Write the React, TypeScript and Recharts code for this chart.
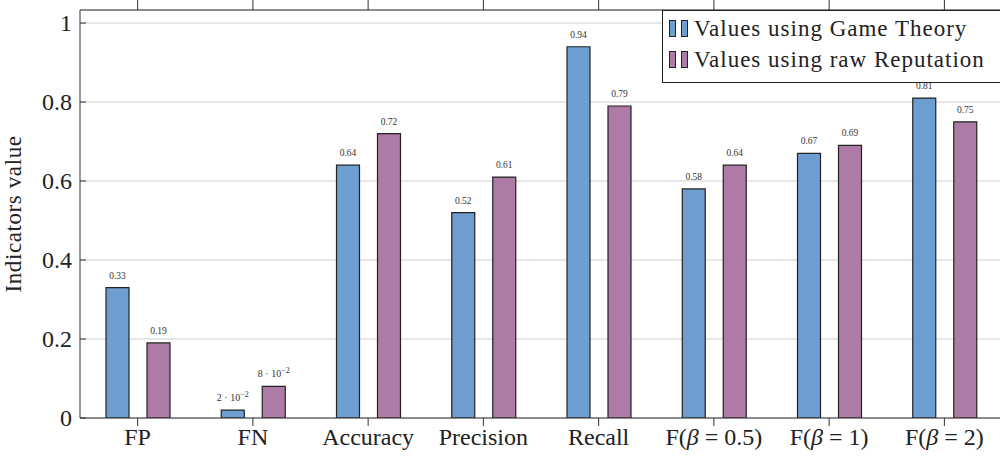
import { BarChart, Bar, XAxis, YAxis, CartesianGrid, LabelList } from 'recharts'

const categories = ['FP', 'FN', 'Accuracy', 'Precision', 'Recall', 'F(β = 0.5)', 'F(β = 1)', 'F(β = 2)']
const gameTheory = [0.33, 0.02, 0.64, 0.52, 0.94, 0.58, 0.67, 0.81]
const rawReputation = [0.19, 0.08, 0.72, 0.61, 0.79, 0.64, 0.69, 0.75]
const yTicks = [0, 0.2, 0.4, 0.6, 0.8, 1]
const seriesNames = ['Values using Game Theory', 'Values using raw Reputation']

const BLUE = '#6e9dcf'
const PURPLE = '#ad7ba6'
const FONT = '"Liberation Serif", "DejaVu Serif", serif'

const data = categories.map((name, i) => ({ name, gt: gameTheory[i], rep: rawReputation[i] }))

// small value labels above bars, scientific style for tiny ones
const ValueLabel = (props: any) => {
  const { x, y, width, value } = props
  const cx = x + width / 2
  if (value < 0.1) {
    const m = Math.round(value * 100)
    return (
      <text x={cx} y={y - 9} textAnchor="middle" fontSize={10} fill="#333" fontFamily={FONT}>
        {`${m} · 10`}
        <tspan dy={-4} fontSize={8}>−2</tspan>
      </text>
    )
  }
  return (
    <text x={cx} y={y - 9} textAnchor="middle" fontSize={9.5} fill="#333" fontFamily={FONT}>
      {value}
    </text>
  )
}

// category label, beta in italics like the math font
const XTick = (props: any) => {
  const { x, y, payload } = props
  const parts = String(payload.value).split('β')
  return (
    <text x={x} y={y} dy={19} textAnchor="middle" fontSize={24} fill="#222" fontFamily={FONT}>
      {parts.length > 1 ? (
        <>
          {parts[0]}
          <tspan fontStyle="italic">β</tspan>
          {parts[1]}
        </>
      ) : (
        payload.value
      )}
    </text>
  )
}

const YTick = (props: any) => {
  const { x, y, payload } = props
  const axisX = x + 8
  return (
    <g>
      <line x1={axisX} y1={y} x2={axisX + 6} y2={y} stroke="#333" strokeWidth={1} />
      <text x={x} y={y} dy={8} textAnchor="end" fontSize={24} fill="#222" fontFamily={FONT}>
        {payload.value}
      </text>
    </g>
  )
}

const LegendBox = () => {
  const colors = [BLUE, PURPLE]
  return (
    <div
      style={{
        position: 'absolute',
        left: 662,
        top: 10,
        width: 360,
        height: 67,
        border: '1.5px solid #222',
        background: '#fff',
        padding: '2px 6px',
        fontFamily: FONT,
        fontSize: 23,
        letterSpacing: 1,
        color: '#222',
        lineHeight: '31px',
        boxSizing: 'content-box',
      }}
    >
      {seriesNames.map((label, i) => (
        <div key={label} style={{ display: 'flex', alignItems: 'center' }}>
          <span style={{ display: 'inline-block', width: 5, height: 15, background: colors[i], border: '1px solid #222', marginRight: 5 }} />
          <span style={{ display: 'inline-block', width: 5, height: 15, background: colors[i], border: '1px solid #222', marginRight: 6 }} />
          <span>{label}</span>
        </div>
      ))}
    </div>
  )
}

export default function App() {
  return (
    <div style={{ position: 'absolute', left: 0, top: 0, width: 1000, height: 465, overflow: 'hidden', background: '#fff' }}>
      <BarChart
        width={1012}
        height={465}
        data={data}
        margin={{ top: 0, right: 10, bottom: 0, left: 0 }}
        barSize={23}
        barGap={18}
      >
        <CartesianGrid horizontal vertical={false} stroke="#cfcfcf" />
        <XAxis
          dataKey="name"
          height={47}
          stroke="#333"
          tickSize={8}
          tickMargin={0}
          tick={<XTick />}
          interval={0}
        />
        <XAxis
          xAxisId="top"
          dataKey="name"
          orientation="top"
          height={10}
          stroke="#333"
          tickSize={10}
          tickFormatter={() => ''}
          interval={0}
        />
        <YAxis
          width={80}
          domain={[0, 1.033]}
          ticks={yTicks}
          stroke="#333"
          tickLine={false}
          tickSize={0}
          tickMargin={8}
          tick={<YTick />}
          allowDataOverflow
          label={{ value: 'Indicators value', angle: -90, position: 'insideLeft', dx: 8, style: { fontSize: 23, letterSpacing: 0.6, fill: '#222', fontFamily: FONT, textAnchor: 'middle' } }}
        />
        <Bar dataKey="gt" name={seriesNames[0]} fill={BLUE} stroke="#222" strokeWidth={1.2} isAnimationActive={false}>
          <LabelList dataKey="gt" content={<ValueLabel />} />
        </Bar>
        <Bar dataKey="rep" name={seriesNames[1]} fill={PURPLE} stroke="#222" strokeWidth={1.2} isAnimationActive={false}>
          <LabelList dataKey="rep" content={<ValueLabel />} />
        </Bar>
      </BarChart>
      <LegendBox />
    </div>
  )
}
